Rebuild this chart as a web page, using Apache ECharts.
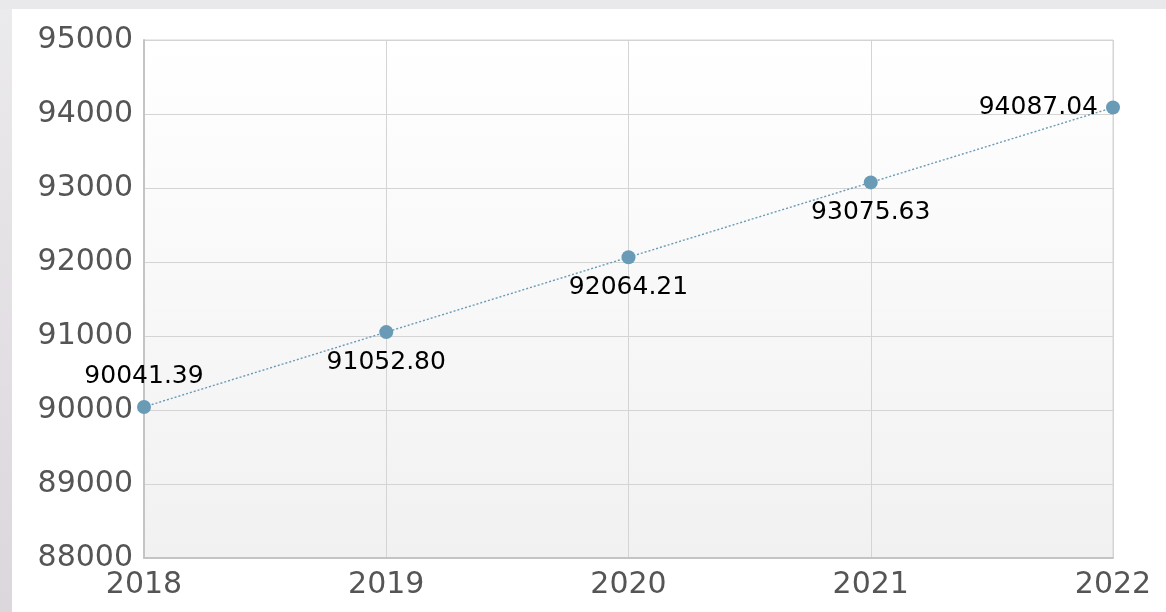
<!DOCTYPE html>
<html>
<head>
<meta charset="utf-8">
<script src="https://cdn.jsdelivr.net/npm/echarts@6/dist/echarts.min.js"></script>
<style>
  html, body { margin: 0; padding: 0; width: 1166px; height: 612px; overflow: hidden; }
  body { background: linear-gradient(to bottom, #ebeaec 0%, #dcd6dd 100%); position: relative; }
  #top { position: absolute; left: 0; top: 0; width: 1166px; height: 9px; background: #e9e8ea; }
  #chart { position: absolute; left: 12px; top: 9px; width: 1154px; height: 603px; background: #ffffff; }
</style>
</head>
<body>
<div id="top"></div>
<div id="chart"></div>
<script>
const categories = ['2018', '2019', '2020', '2021', '2022'];
const values = [90041.39, 91052.80, 92064.21, 93075.63, 94087.04];
const yTicks = [88000, 89000, 90000, 91000, 92000, 93000, 94000, 95000];

const labelPlacement = ['top', 'bottom', 'bottom', 'bottom', 'left'];

const chart = echarts.init(document.getElementById('chart'), null, { renderer: 'canvas' });
chart.setOption({
  animation: false,
  textStyle: { fontFamily: 'DejaVu Sans' },
  grid: {
    left: 132, top: 31, right: 53, bottom: 54,
    show: true,
    borderColor: '#d4d4d4',
    borderWidth: 1,
    backgroundColor: new echarts.graphic.LinearGradient(0, 0, 0, 1, [
      { offset: 0, color: '#ffffff' },
      { offset: 1, color: '#f1f1f1' }
    ])
  },
  xAxis: {
    type: 'category',
    data: categories,
    boundaryGap: false,
    axisLine: { show: true, lineStyle: { color: '#c4c4c4', width: 2 } },
    axisTick: { show: false },
    axisLabel: { color: '#555555', fontSize: 30, margin: 12, fontFamily: 'DejaVu Sans' },
    splitLine: { show: true, lineStyle: { color: '#d4d4d4', width: 1 } }
  },
  yAxis: {
    type: 'value',
    min: yTicks[0],
    max: yTicks[yTicks.length - 1],
    interval: 1000,
    axisLine: { show: true, lineStyle: { color: '#c4c4c4', width: 2 } },
    axisTick: { show: false },
    axisLabel: {
      color: '#555555', fontSize: 30, margin: 11, fontFamily: 'DejaVu Sans',
      formatter: v => String(v)
    },
    splitLine: { show: true, lineStyle: { color: '#d4d4d4', width: 1 } }
  },
  series: [{
    type: 'line',
    data: values.map((v, i) => ({
      value: v,
      label: { position: labelPlacement[i], distance: labelPlacement[i] === 'left' ? 8 : 11 }
    })),
    symbol: 'circle',
    symbolSize: 14,
    itemStyle: { color: '#6a9bb6' },
    lineStyle: { color: '#6a9bb6', width: 1.4, type: [2, 2] },
    label: {
      show: true,
      color: '#000000',
      fontSize: 25,
      fontFamily: 'DejaVu Sans',
      distance: 11,
      formatter: p => p.value.toFixed(2)
    }
  }]
});
</script>
</body>
</html>
